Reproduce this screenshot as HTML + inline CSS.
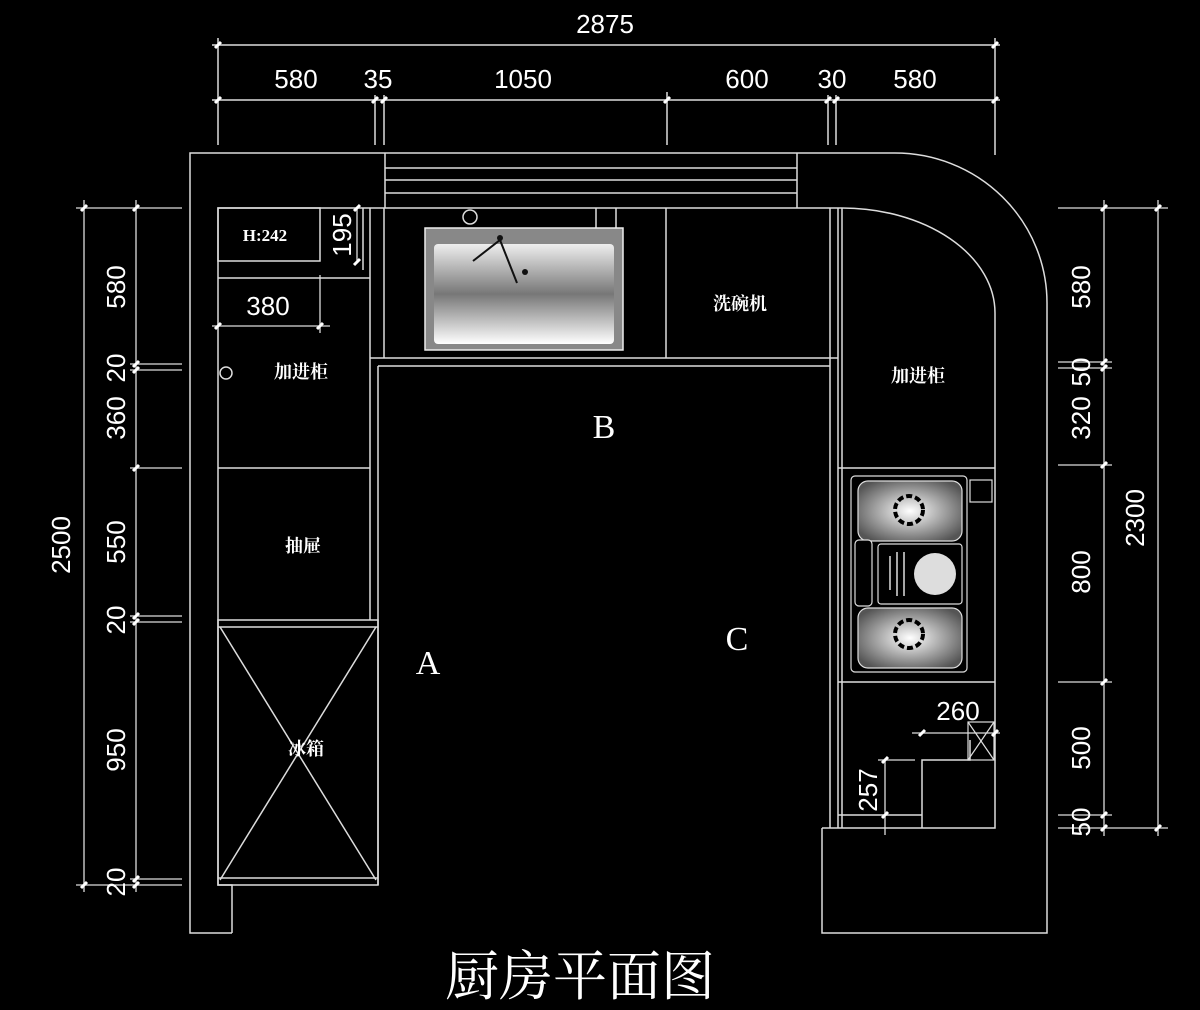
<!DOCTYPE html>
<html><head><meta charset="utf-8"><style>
html,body{margin:0;padding:0;background:#000;width:1200px;height:1010px;overflow:hidden}
svg{display:block}
text{fill:#fff;font-family:"Liberation Sans","Noto Sans CJK SC",sans-serif}
.cn{font-family:"Noto Serif CJK SC","Noto Sans CJK SC",serif}
</style></head><body>
<svg width="1200" height="1010" viewBox="0 0 1200 1010" xmlns="http://www.w3.org/2000/svg">
<defs>
<linearGradient id="sg" x1="0" y1="0" x2="0" y2="1">
<stop offset="0" stop-color="#eee"/><stop offset="0.5" stop-color="#777"/><stop offset="1" stop-color="#fff"/></linearGradient>
<radialGradient id="bg" cx="0.5" cy="0.5" r="0.6"><stop offset="0" stop-color="#fff"/><stop offset="1" stop-color="#555"/></radialGradient>
</defs>
<g stroke="#ddd" stroke-width="1.5" fill="none">
<line x1="212" y1="45" x2="1000" y2="45"/>
<line x1="212" y1="100" x2="1000" y2="100"/>
<line x1="218" y1="38" x2="218" y2="145"/>
<line x1="995" y1="38" x2="995" y2="155"/>
<line x1="375" y1="95" x2="375" y2="145"/>
<line x1="384" y1="95" x2="384" y2="145"/>
<line x1="667" y1="92" x2="667" y2="145"/>
<line x1="828" y1="95" x2="828" y2="145"/>
<line x1="836" y1="95" x2="836" y2="145"/>
<path d="M232,933 H190 V153 H895 A152,150 0 0 1 1047,303 V933 H822 V828"/>
<path d="M232,933 V885 H218 V208 H842 A153,105 0 0 1 995,313 V828 H822"/>
<line x1="385" y1="153" x2="385" y2="208"/>
<line x1="797" y1="153" x2="797" y2="208"/>
<line x1="385" y1="168" x2="797" y2="168"/>
<line x1="385" y1="180" x2="797" y2="180"/>
<line x1="385" y1="193" x2="797" y2="193"/>
<line x1="370" y1="208" x2="370" y2="620"/>
<line x1="378" y1="366" x2="378" y2="885"/>
<line x1="218" y1="468" x2="370" y2="468"/>
<rect x="218" y="620" width="160" height="265"/>
<line x1="218" y1="627" x2="378" y2="627"/>
<line x1="220" y1="627" x2="376" y2="880"/>
<line x1="376" y1="627" x2="220" y2="880"/>
<line x1="218" y1="878" x2="378" y2="878"/>
<rect x="218" y="208" width="102" height="53"/>
<line x1="218" y1="278" x2="370" y2="278"/>
<line x1="363" y1="208" x2="363" y2="270"/>
<circle cx="226" cy="373" r="6"/>
<line x1="370" y1="358" x2="838" y2="358"/>
<line x1="378" y1="366" x2="830" y2="366"/>
<line x1="384" y1="208" x2="384" y2="358"/>
<line x1="666" y1="208" x2="666" y2="358"/>
<line x1="596" y1="208" x2="596" y2="228"/>
<line x1="616" y1="208" x2="616" y2="228"/>
<line x1="830" y1="208" x2="830" y2="828"/>
<line x1="838" y1="208" x2="838" y2="828"/>
<line x1="842" y1="208" x2="842" y2="828"/>
<line x1="838" y1="468" x2="995" y2="468"/>
<line x1="838" y1="682" x2="995" y2="682"/>
<line x1="838" y1="815" x2="922" y2="815"/>
<polyline points="922,828 922,760 970,760 970,740"/>
<circle cx="470" cy="217" r="7"/>
</g>
<rect x="425" y="228" width="198" height="122" fill="#888" stroke="#eee" stroke-width="1.5"/>
<rect x="434" y="244" width="180" height="100" rx="4" fill="url(#sg)"/>
<path d="M473,261 L500,240 L517,283" stroke="#111" stroke-width="2" fill="none"/>
<circle cx="500" cy="238" r="3" fill="#111"/>
<circle cx="525" cy="272" r="3" fill="#111"/>
<g stroke="#ddd" stroke-width="1.2">
<rect x="851" y="476" width="116" height="196" rx="4" fill="#000"/>
<rect x="858" y="481" width="104" height="60" rx="10" fill="url(#bg)"/>
<rect x="858" y="608" width="104" height="60" rx="10" fill="url(#bg)"/>
<rect x="878" y="544" width="84" height="60" rx="3" fill="#000"/>
<rect x="855" y="540" width="17" height="66" rx="4" fill="#000"/>
<rect x="970" y="480" width="22" height="22" fill="none"/>
<rect x="968" y="722" width="26" height="38" fill="none"/>
<line x1="968" y1="722" x2="994" y2="760"/><line x1="994" y1="722" x2="968" y2="760"/>
</g>
<circle cx="909" cy="510" r="14" fill="none" stroke="#000" stroke-width="4" stroke-dasharray="6 3"/>
<circle cx="909" cy="634" r="14" fill="none" stroke="#000" stroke-width="4" stroke-dasharray="6 3"/>
<circle cx="935" cy="574" r="21" fill="#ddd"/>
<g stroke="#ddd" stroke-width="1.5"><line x1="890" y1="556" x2="890" y2="590"/><line x1="897" y1="552" x2="897" y2="596"/><line x1="904" y1="552" x2="904" y2="596"/></g>
<g stroke="#ddd" stroke-width="1.3">
<line x1="84" y1="200" x2="84" y2="892"/>
<line x1="136" y1="200" x2="136" y2="892"/>
<line x1="76" y1="208" x2="182" y2="208"/>
<line x1="76" y1="885" x2="182" y2="885"/>
<line x1="130" y1="364" x2="182" y2="364"/>
<line x1="130" y1="370" x2="182" y2="370"/>
<line x1="130" y1="468" x2="182" y2="468"/>
<line x1="130" y1="616" x2="182" y2="616"/>
<line x1="130" y1="622" x2="182" y2="622"/>
<line x1="130" y1="879" x2="182" y2="879"/>
<line x1="1104" y1="200" x2="1104" y2="836"/>
<line x1="1158" y1="200" x2="1158" y2="836"/>
<line x1="1058" y1="208" x2="1168" y2="208"/>
<line x1="1058" y1="828" x2="1168" y2="828"/>
<line x1="1058" y1="362" x2="1112" y2="362"/>
<line x1="1058" y1="368" x2="1112" y2="368"/>
<line x1="1058" y1="465" x2="1112" y2="465"/>
<line x1="1058" y1="682" x2="1112" y2="682"/>
<line x1="1058" y1="815" x2="1112" y2="815"/>
<line x1="212" y1="326" x2="330" y2="326"/>
<line x1="320" y1="275" x2="320" y2="333"/>
<line x1="357" y1="208" x2="357" y2="262"/>
<line x1="912" y1="733" x2="1000" y2="733"/>
<line x1="885" y1="760" x2="885" y2="835"/>
<line x1="878" y1="760" x2="915" y2="760"/>
</g>
<!-- tick marks -->
<g stroke="#fff" stroke-width="3">
<path d="M215,48 l6,-6 M992,48 l6,-6 M215,103 l6,-6 M372,103 l6,-6 M381,103 l6,-6 M664,103 l6,-6 M825,103 l6,-6 M833,103 l6,-6 M992,103 l6,-6"/>
<path d="M81,211 l6,-6 M81,888 l6,-6 M133,211 l6,-6 M133,367 l6,-6 M133,373 l6,-6 M133,471 l6,-6 M133,619 l6,-6 M133,625 l6,-6 M133,882 l6,-6 M133,888 l6,-6"/>
<path d="M1101,211 l6,-6 M1101,365 l6,-6 M1101,371 l6,-6 M1101,468 l6,-6 M1101,685 l6,-6 M1101,818 l6,-6 M1101,831 l6,-6 M1155,211 l6,-6 M1155,831 l6,-6"/>
<path d="M215,329 l6,-6 M317,329 l6,-6 M354,211 l6,-6 M354,265 l6,-6 M919,736 l6,-6 M992,736 l6,-6 M882,763 l6,-6 M882,818 l6,-6"/>
</g>
<g font-size="26">
<text x="605" y="33" text-anchor="middle">2875</text>
<text x="296" y="88" text-anchor="middle">580</text>
<text x="378" y="88" text-anchor="middle">35</text>
<text x="523" y="88" text-anchor="middle">1050</text>
<text x="747" y="88" text-anchor="middle">600</text>
<text x="832" y="88" text-anchor="middle">30</text>
<text x="915" y="88" text-anchor="middle">580</text>
<text x="268" y="315" text-anchor="middle">380</text>
<text x="958" y="720" text-anchor="middle">260</text>
</g>
<g font-size="26" text-anchor="middle">
<text transform="translate(70,545) rotate(-90)">2500</text>
<text transform="translate(125,287) rotate(-90)">580</text>
<text transform="translate(125,368) rotate(-90)">20</text>
<text transform="translate(125,418) rotate(-90)">360</text>
<text transform="translate(125,542) rotate(-90)">550</text>
<text transform="translate(125,620) rotate(-90)">20</text>
<text transform="translate(125,750) rotate(-90)">950</text>
<text transform="translate(125,882) rotate(-90)">20</text>
<text transform="translate(351,235) rotate(-90)">195</text>
<text transform="translate(1090,287) rotate(-90)">580</text>
<text transform="translate(1090,372) rotate(-90)">50</text>
<text transform="translate(1090,418) rotate(-90)">320</text>
<text transform="translate(1090,572) rotate(-90)">800</text>
<text transform="translate(1090,748) rotate(-90)">500</text>
<text transform="translate(1090,822) rotate(-90)">50</text>
<text transform="translate(1144,518) rotate(-90)">2300</text>
<text transform="translate(877,790) rotate(-90)">257</text>
</g>
<text x="265" y="241" font-size="17" style="font-family:'Liberation Serif',serif;font-weight:bold" text-anchor="middle">H:242</text>
<g font-size="18" text-anchor="middle" font-weight="bold">
<text class="cn" x="301" y="378">加进柜</text>
<text class="cn" x="918" y="382">加进柜</text>
<text class="cn" x="740" y="310">洗碗机</text>
<text class="cn" x="303" y="552">抽屉</text>
<text class="cn" x="306" y="755">冰箱</text>
</g>
<g font-size="34" text-anchor="middle">
<text x="604" y="438" style="font-family:'Liberation Serif',serif">B</text>
<text x="428" y="674" style="font-family:'Liberation Serif',serif">A</text>
<text x="737" y="650" style="font-family:'Liberation Serif',serif">C</text>
</g>
<text class="cn" x="580" y="995" font-size="54" text-anchor="middle">厨房平面图</text>
</svg>
</body></html>
